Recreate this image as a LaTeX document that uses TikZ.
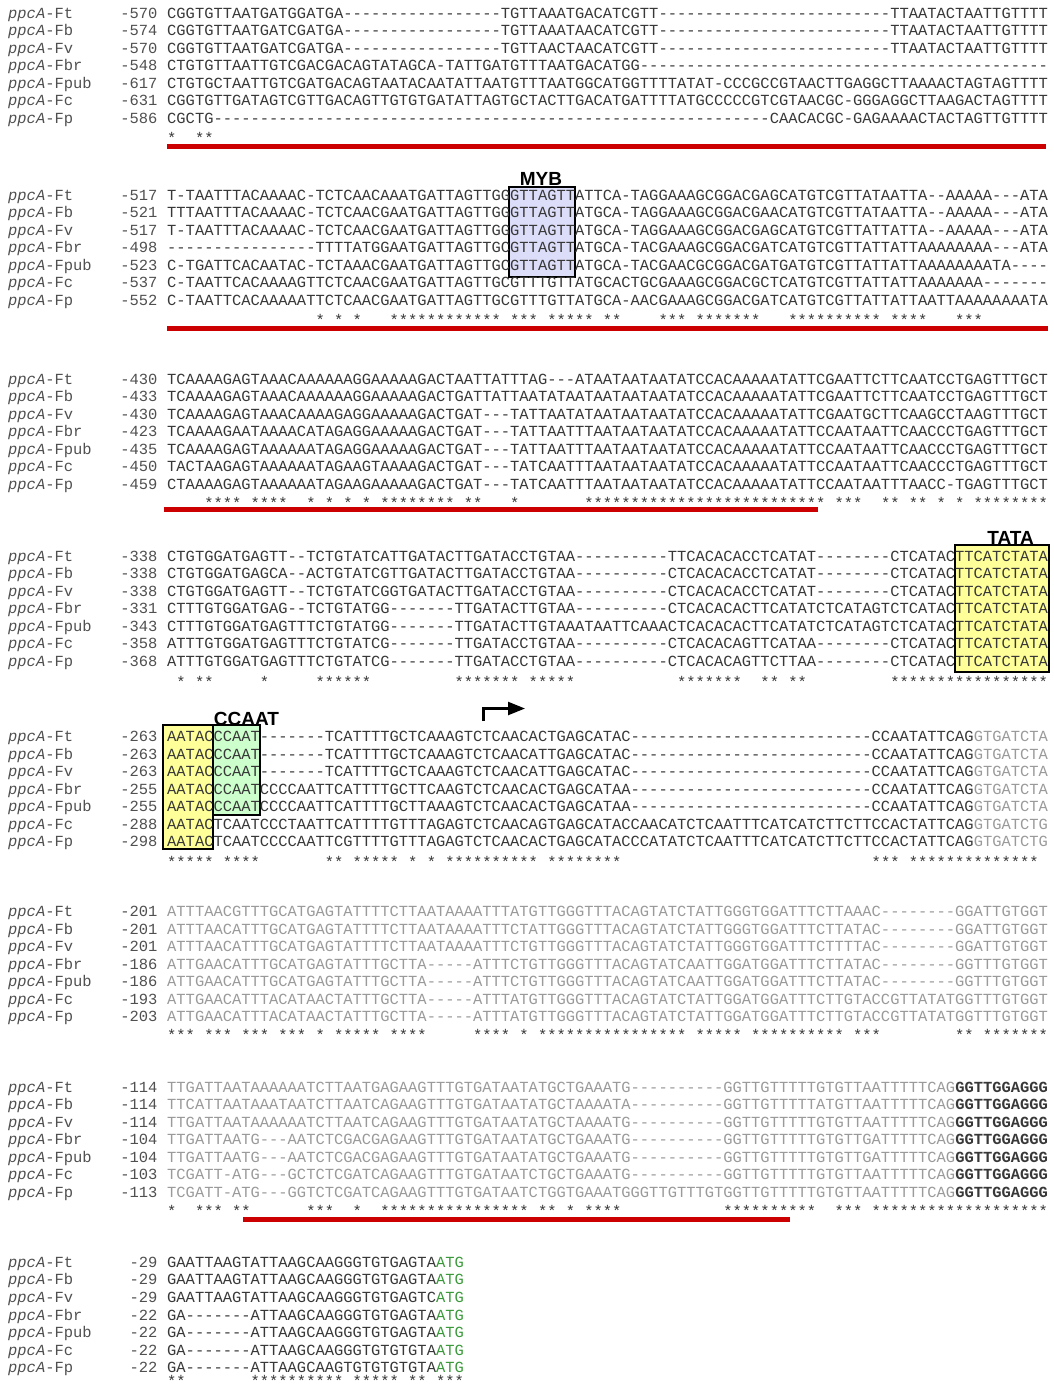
\documentclass[tikz,border=0pt]{standalone}
\usepackage{fontspec}
\setmainfont{Liberation Sans}
\setmonofont{Liberation Mono}[Ligatures=TeXOff]
\usetikzlibrary{arrows.meta}

\definecolor{seqdark}{HTML}{383838}
\definecolor{seqlight}{HTML}{9A9A9A}
\definecolor{labgray}{HTML}{505050}
\definecolor{barred}{HTML}{CC0000}
\definecolor{mybfill}{HTML}{DCDDF8}
\definecolor{tatafill}{HTML}{FFFF99}
\definecolor{ccaatfill}{HTML}{CCFFCC}
\definecolor{atggreen}{HTML}{3A9A3A}

\newcommand{\gapn}[1]{\foreach \kk in {1,...,#1}{-}}

\tikzset{
  seqtext/.style={anchor=base west, inner sep=0pt, font=\ttfamily\fontsize{15.45}{17.5}\selectfont, text=seqdark},
  seqnum/.style={anchor=base east, inner sep=0pt, font=\ttfamily\fontsize{15.45}{17.5}\selectfont, text=labgray},
  seqname/.style={anchor=base west, inner sep=0pt, font=\ttfamily\fontsize{15.45}{17.5}\selectfont, text=labgray},
  starmark/.style={anchor=base west, inner sep=0pt, font=\ttfamily\fontsize{15.45}{17.5}\selectfont, text=seqdark},
  motiflabel/.style={inner sep=0pt, font=\bfseries\fontsize{19}{19}\selectfont, text=black},
  motifbox/.style={draw=black, line width=1.2pt},
  redbar/.style={fill=barred},
  tss/.style={line width=2.4pt, -{Triangle[length=17pt,width=13pt]}},
}

\begin{document}
\begin{tikzpicture}[x=1pt, y=-1pt]

	\fill[white] (0,0) rectangle (1054,1387);
	\useasboundingbox (0,0) rectangle (1054,1387);

	% motif boxes
	\filldraw[motifbox, fill=mybfill] (509,187) rectangle (575,277);
	\filldraw[motifbox, fill=tatafill] (955,545) rectangle (1049,672);
	\filldraw[motifbox, fill=tatafill] (163,725) rectangle (213,849);
	\filldraw[motifbox, fill=ccaatfill] (213,725) rectangle (260,815);
	\node[motiflabel] (myb) at (541,179) {MYB};
	\node[motiflabel] (tata) at (1010.5,538) {TATA};
	\node[motiflabel] (ccaat) at (246.5,718.5) {CCAAT};

	% block 1
	\foreach \nm/\numlab/\sq [count=\i] in {
		Ft/-570/{CGGTGTTAATGATGGATGA\gapn{17}TGTTAAATGACATCGTT\gapn{25}TTAATACTAATTGTTTT},
		Fb/-574/{CGGTGTTAATGATCGATGA\gapn{17}TGTTAAATAACATCGTT\gapn{25}TTAATACTAATTGTTTT},
		Fv/-570/{CGGTGTTAATGATCGATGA\gapn{17}TGTTAACTAACATCGTT\gapn{25}TTAATACTAATTGTTTT},
		Fbr/-548/{CTGTGTTAATTGTCGACGACAGTATAGCA-TATTGATGTTTAATGACATGG\gapn{44}},
		Fpub/-617/{CTGTGCTAATTGTCGATGACAGTAATACAATATTAATGTTTAATGGCATGGTTTTATAT-CCCGCCGTAACTTGAGGCTTAAAACTAGTAGTTTT},
		Fc/-631/{CGGTGTTGATAGTCGTTGACAGTTGTGTGATATTAGTGCTACTTGACATGATTTTATGCCCCCGTCGTAACGC-GGGAGGCTTAAGACTAGTTTT},
		Fp/-586/{CGCTG\gapn{60}CAACACGC-GAGAAAACTACTAGTTGTTTT}}{
		\node[seqname] (n1-\i) at (8,{18.3+(\i-1)*17.5}) {\textit{ppcA}-\nm};
		\node[seqnum] (p1-\i) at (157.7,{18.3+(\i-1)*17.5}) {\numlab};
		\node[seqtext] (q1-\i) at (167,{18.3+(\i-1)*17.5}) {\sq};
	}
	\foreach \a/\b in {1/1,4/5}
		\foreach \p in {\a,...,\b}
			\node[starmark] (s1-\p) at ({167+(\p-1)*9.27},{21+7*17.5}) {*};
	\fill[redbar] (167,143.5) rectangle (1046,148.5);

	% block 2
	\foreach \nm/\numlab/\sq [count=\i] in {
		Ft/-517/{T-TAATTTACAAAAC-TCTCAACAAATGATTAGTTGGGTTAGTTATTCA-TAGGAAAGCGGACGAGCATGTCGTTATAATTA--AAAAA---ATA},
		Fb/-521/{TTTAATTTACAAAAC-TCTCAACGAATGATTAGTTGGGTTAGTTATGCA-TAGGAAAGCGGACGAACATGTCGTTATAATTA--AAAAA---ATA},
		Fv/-517/{T-TAATTTACAAAAC-TCTCAACGAATGATTAGTTGGGTTAGTTATGCA-TAGGAAAGCGGACGAGCATGTCGTTATTATTA--AAAAA---ATA},
		Fbr/-498/{\gapn{16}TTTTATGGAATGATTAGTTGCGTTAGTTATGCA-TACGAAAGCGGACGATCATGTCGTTATTATTAAAAAAAA---ATA},
		Fpub/-523/{C-TGATTCACAATAC-TCTAAACGAATGATTAGTTGCGTTAGTTATGCA-TACGAACGCGGACGATGATGTCGTTATTATTAAAAAAAATA----},
		Fc/-537/{C-TAATTCACAAAAGTTCTCAACGAATGATTAGTTGCGTTTGTTATGCACTGCGAAAGCGGACGCTCATGTCGTTATTATTAAAAAAA\gapn{7}},
		Fp/-552/{C-TAATTCACAAAAATTCTCAACGAATGATTAGTTGCGTTTGTTATGCA-AACGAAAGCGGACGATCATGTCGTTATTATTAATTAAAAAAAATA}}{
		\node[seqname] (n2-\i) at (8,{200.3+(\i-1)*17.5}) {\textit{ppcA}-\nm};
		\node[seqnum] (p2-\i) at (157.7,{200.3+(\i-1)*17.5}) {\numlab};
		\node[seqtext] (q2-\i) at (167,{200.3+(\i-1)*17.5}) {\sq};
	}
	\foreach \a/\b in {17/17,19/19,21/21,25/36,38/40,42/46,48/49,54/56,58/64,68/77,79/82,86/88}
		\foreach \p in {\a,...,\b}
			\node[starmark] (s2-\p) at ({167+(\p-1)*9.27},{203+7*17.5}) {*};
	\fill[redbar] (167,325.5) rectangle (1048,330.5);

	% block 3
	\foreach \nm/\numlab/\sq [count=\i] in {
		Ft/-430/{TCAAAAGAGTAAACAAAAAAGGAAAAAGACTAATTATTTAG---ATAATAATAATATCCACAAAAATATTCGAATTCTTCAATCCTGAGTTTGCT},
		Fb/-433/{TCAAAAGAGTAAACAAAAAAGGAAAAAGACTGATTATTAATATAATAATAATAATATCCACAAAAATATTCGAATTCTTCAATCCTGAGTTTGCT},
		Fv/-430/{TCAAAAGAGTAAACAAAAGAGGAAAAAGACTGAT---TATTAATATAATAATAATATCCACAAAAATATTCGAATGCTTCAAGCCTAAGTTTGCT},
		Fbr/-423/{TCAAAAGAATAAAACATAGAGGAAAAAGACTGAT---TATTAATTTAATAATAATATCCACAAAAATATTCCAATAATTCAACCCTGAGTTTGCT},
		Fpub/-435/{TCAAAAGAGTAAAAAATAGAGGAAAAAGACTGAT---TATTAATTTAATAATAATATCCACAAAAATATTCCAATAATTCAACCCTGAGTTTGCT},
		Fc/-450/{TACTAAGAGTAAAAAATAGAAGTAAAAGACTGAT---TATCAATTTAATAATAATATCCACAAAAATATTCCAATAATTCAACCCTGAGTTTGCT},
		Fp/-459/{CTAAAAGAGTAAAAAATAGAAGAAAAAGACTGAT---TATCAATTTAATAATAATATCCACAAAAATATTCCAATAATTTAACC-TGAGTTTGCT}}{
		\node[seqname] (n3-\i) at (8,{384.3+(\i-1)*17.5}) {\textit{ppcA}-\nm};
		\node[seqnum] (p3-\i) at (157.7,{384.3+(\i-1)*17.5}) {\numlab};
		\node[seqtext] (q3-\i) at (167,{384.3+(\i-1)*17.5}) {\sq};
	}
	\foreach \a/\b in {5/8,10/13,16/16,18/18,20/20,22/22,24/31,33/34,38/38,46/71,73/75,78/79,81/82,84/84,86/86,88/95}
		\foreach \p in {\a,...,\b}
			\node[starmark] (s3-\p) at ({167+(\p-1)*9.27},{385.5+7*17.5}) {*};
	\fill[redbar] (164,506.5) rectangle (818,511.5);

	% block 4
	\foreach \nm/\numlab/\sq [count=\i] in {
		Ft/-338/{CTGTGGATGAGTT--TCTGTATCATTGATACTTGATACCTGTAA\gapn{10}TTCACACACCTCATAT\gapn{8}CTCATACTTCATCTATA},
		Fb/-338/{CTGTGGATGAGCA--ACTGTATCGTTGATACTTGATACCTGTAA\gapn{10}CTCACACACCTCATAT\gapn{8}CTCATACTTCATCTATA},
		Fv/-338/{CTGTGGATGAGTT--TCTGTATCGGTGATACTTGATACCTGTAA\gapn{10}CTCACACACCTCATAT\gapn{8}CTCATACTTCATCTATA},
		Fbr/-331/{CTTTGTGGATGAG--TCTGTATGG\gapn{7}TTGATACTTGTAA\gapn{10}CTCACACACTTCATATCTCATAGTCTCATACTTCATCTATA},
		Fpub/-343/{CTTTGTGGATGAGTTTCTGTATGG\gapn{7}TTGATACTTGTAAATAATTCAAACTCACACACTTCATATCTCATAGTCTCATACTTCATCTATA},
		Fc/-358/{ATTTGTGGATGAGTTTCTGTATCG\gapn{7}TTGATACCTGTAA\gapn{10}CTCACACAGTTCATAA\gapn{8}CTCATACTTCATCTATA},
		Fp/-368/{ATTTGTGGATGAGTTTCTGTATCG\gapn{7}TTGATACCTGTAA\gapn{10}CTCACACAGTTCTTAA\gapn{8}CTCATACTTCATCTATA}}{
		\node[seqname] (n4-\i) at (8,{561+(\i-1)*17.5}) {\textit{ppcA}-\nm};
		\node[seqnum] (p4-\i) at (157.7,{561+(\i-1)*17.5}) {\numlab};
		\node[seqtext] (q4-\i) at (167,{561+(\i-1)*17.5}) {\sq};
	}
	\foreach \a/\b in {2/2,4/5,11/11,17/22,32/38,40/44,56/62,65/66,68/69,79/95}
		\foreach \p in {\a,...,\b}
			\node[starmark] (s4-\p) at ({167+(\p-1)*9.27},{564.5+7*17.5}) {*};

	% block 5
	\foreach \nm/\numlab/\sq [count=\i] in {
		Ft/-263/{AATACCCAAT\gapn{7}TCATTTTGCTCAAAGTCTCAACACTGAGCATAC\gapn{26}CCAATATTCAG\textcolor{seqlight}{GTGATCTA}},
		Fb/-263/{AATACCCAAT\gapn{7}TCATTTTGCTCAAAGTCTCAACATTGAGCATAC\gapn{26}CCAATATTCAG\textcolor{seqlight}{GTGATCTA}},
		Fv/-263/{AATACCCAAT\gapn{7}TCATTTTGCTCAAAGTCTCAACATTGAGCATAC\gapn{26}CCAATATTCAG\textcolor{seqlight}{GTGATCTA}},
		Fbr/-255/{AATACCCAATCCCCAATTCATTTTGCTTCAAGTCTCAACACTGAGCATAA\gapn{26}CCAATATTCAG\textcolor{seqlight}{GTGATCTA}},
		Fpub/-255/{AATACCCAATCCCCAATTCATTTTGCTTAAAGTCTCAACACTGAGCATAA\gapn{26}CCAATATTCAG\textcolor{seqlight}{GTGATCTA}},
		Fc/-288/{AATACTCAATCCCTAATTCATTTTGTTTAGAGTCTCAACAGTGAGCATACCAACATCTCAATTTCATCATCTTCTTCCACTATTCAG\textcolor{seqlight}{GTGATCTG}},
		Fp/-298/{AATACTCAATCCCCAATTCGTTTTGTTTAGAGTCTCAACACTGAGCATACCCATATCTCAATTTCATCATCTTCTTCCACTATTCAG\textcolor{seqlight}{GTGATCTG}}}{
		\node[seqname] (n5-\i) at (8,{741.7+(\i-1)*17.5}) {\textit{ppcA}-\nm};
		\node[seqnum] (p5-\i) at (157.7,{741.7+(\i-1)*17.5}) {\numlab};
		\node[seqtext] (q5-\i) at (167,{741.7+(\i-1)*17.5}) {\sq};
	}
	\foreach \a/\b in {1/5,7/10,18/19,21/25,27/27,29/29,31/40,42/49,77/79,81/94}
		\foreach \p in {\a,...,\b}
			\node[starmark] (s5-\p) at ({167+(\p-1)*9.27},{744.5+7*17.5}) {*};
	% start of transcription
	\coordinate (tssfoot) at (483.5,721);
	\coordinate (tsstip) at (525,708.5);
	\draw[tss] (tssfoot) |- (tsstip);

	% block 6
	\foreach \nm/\numlab/\sq [count=\i] in {
		Ft/-201/{ATTTAACGTTTGCATGAGTATTTTCTTAATAAAATTTATGTTGGGTTTACAGTATCTATTGGGTGGATTTCTTAAAC\gapn{8}GGATTGTGGT},
		Fb/-201/{ATTTAACATTTGCATGAGTATTTTCTTAATAAAATTTCTATTGGGTTTACAGTATCTATTGGGTGGATTTCTTATAC\gapn{8}GGATTGTGGT},
		Fv/-201/{ATTTAACATTTGCATGAGTATTTTCTTAATAAAATTTCTGTTGGGTTTACAGTATCTATTGGGTGGATTTCTTTTAC\gapn{8}GGATTGTGGT},
		Fbr/-186/{ATTGAACATTTGCATGAGTATTTGCTTA\gapn{5}ATTTCTGTTGGGTTTACAGTATCAATTGGATGGATTTCTTATAC\gapn{8}GGTTTGTGGT},
		Fpub/-186/{ATTGAACATTTGCATGAGTATTTGCTTA\gapn{5}ATTTCTGTTGGGTTTACAGTATCAATTGGATGGATTTCTTATAC\gapn{8}GGTTTGTGGT},
		Fc/-193/{ATTGAACATTTACATAACTATTTGCTTA\gapn{5}ATTTATGTTGGGTTTACAGTATCTATTGGATGGATTTCTTGTACCGTTATATGGTTTGTGGT},
		Fp/-203/{ATTGAACATTTACATAACTATTTGCTTA\gapn{5}ATTTATGTTGGGTTTACAGTATCTATTGGATGGATTTCTTGTACCGTTATATGGTTTGTGGT}}{
		\node[seqname] (n6-\i) at (8,{916.7+(\i-1)*17.5}) {\textit{ppcA}-\nm};
		\node[seqnum] (p6-\i) at (157.7,{916.7+(\i-1)*17.5}) {\numlab};
		\node[seqtext, text=seqlight] (q6-\i) at (167,{916.7+(\i-1)*17.5}) {\sq};
	}
	\foreach \a/\b in {1/3,5/7,9/11,13/15,17/17,19/23,25/28,34/37,39/39,41/56,58/62,64/73,75/77,86/87,89/95}
		\foreach \p in {\a,...,\b}
			\node[starmark] (s6-\p) at ({167+(\p-1)*9.27},{918+7*17.5}) {*};

	% block 7
	\foreach \nm/\numlab/\sq [count=\i] in {
		Ft/-114/{TTGATTAATAAAAAATCTTAATGAGAAGTTTGTGATAATATGCTGAAATG\gapn{10}GGTTGTTTTTGTGTTAATTTTTCAG\textcolor{seqdark}{\textbf{GGTTGGAGGG}}},
		Fb/-114/{TTCATTAATAAATAATCTTAATCAGAAGTTTGTGATAATATGCTAAAATA\gapn{10}GGTTGTTTTTATGTTAATTTTTCAG\textcolor{seqdark}{\textbf{GGTTGGAGGG}}},
		Fv/-114/{TTGATTAATAAAAAATCTTAATCAGAAGTTTGTGATAATATGCTAAAATG\gapn{10}GGTTGTTTTTGTGTTAATTTTTCAG\textcolor{seqdark}{\textbf{GGTTGGAGGG}}},
		Fbr/-104/{TTGATTAATG---AATCTCGACGAGAAGTTTGTGATAATATGCTGAAATG\gapn{10}GGTTGTTTTTGTGTTGATTTTTCAG\textcolor{seqdark}{\textbf{GGTTGGAGGG}}},
		Fpub/-104/{TTGATTAATG---AATCTCGACGAGAAGTTTGTGATAATATGCTGAAATG\gapn{10}GGTTGTTTTTGTGTTGATTTTTCAG\textcolor{seqdark}{\textbf{GGTTGGAGGG}}},
		Fc/-103/{TCGATT-ATG---GCTCTCGATCAGAAGTTTGTGATAATCTGCTGAAATG\gapn{10}GGTTGTTTTTGTGTTAATTTTTCAG\textcolor{seqdark}{\textbf{GGTTGGAGGG}}},
		Fp/-113/{TCGATT-ATG---GGTCTCGATCAGAAGTTTGTGATAATCTGGTGAAATGGGTTGTTTGTGGTTGTTTTTGTGTTAATTTTTCAG\textcolor{seqdark}{\textbf{GGTTGGAGGG}}}}{
		\node[seqname] (n7-\i) at (8,{1092.3+(\i-1)*17.5}) {\textit{ppcA}-\nm};
		\node[seqnum] (p7-\i) at (157.7,{1092.3+(\i-1)*17.5}) {\numlab};
		\node[seqtext, text=seqlight] (q7-\i) at (167,{1092.3+(\i-1)*17.5}) {\sq};
	}
	\foreach \a/\b in {1/1,4/6,8/9,16/18,21/21,24/39,41/42,44/44,46/49,61/70,73/75,77/95}
		\foreach \p in {\a,...,\b}
			\node[starmark] (s7-\p) at ({167+(\p-1)*9.27},{1093.5+7*17.5}) {*};
	\fill[redbar] (243,1217) rectangle (790,1222);

	% block 8
	\foreach \nm/\numlab/\sq [count=\i] in {
		Ft/-29/{GAATTAAGTATTAAGCAAGGGTGTGAGTA\textcolor{atggreen}{ATG}},
		Fb/-29/{GAATTAAGTATTAAGCAAGGGTGTGAGTA\textcolor{atggreen}{ATG}},
		Fv/-29/{GAATTAAGTATTAAGCAAGGGTGTGAGTC\textcolor{atggreen}{ATG}},
		Fbr/-22/{GA\gapn{7}ATTAAGCAAGGGTGTGAGTA\textcolor{atggreen}{ATG}},
		Fpub/-22/{GA\gapn{7}ATTAAGCAAGGGTGTGAGTA\textcolor{atggreen}{ATG}},
		Fc/-22/{GA\gapn{7}ATTAAGCAAGGGTGTGTGTA\textcolor{atggreen}{ATG}},
		Fp/-22/{GA\gapn{7}ATTAAGCAAGTGTGTGTGTA\textcolor{atggreen}{ATG}}}{
		\node[seqname] (n8-\i) at (8,{1267.3+(\i-1)*17.6}) {\textit{ppcA}-\nm};
		\node[seqnum] (p8-\i) at (157.7,{1267.3+(\i-1)*17.6}) {\numlab};
		\node[seqtext] (q8-\i) at (167,{1267.3+(\i-1)*17.6}) {\sq};
	}
	\foreach \a/\b in {1/2,10/19,21/25,27/28,30/32}
		\foreach \p in {\a,...,\b}
			\node[starmark] (s8-\p) at ({167+(\p-1)*9.27},1386.5) {*};

\end{tikzpicture}
\end{document}
